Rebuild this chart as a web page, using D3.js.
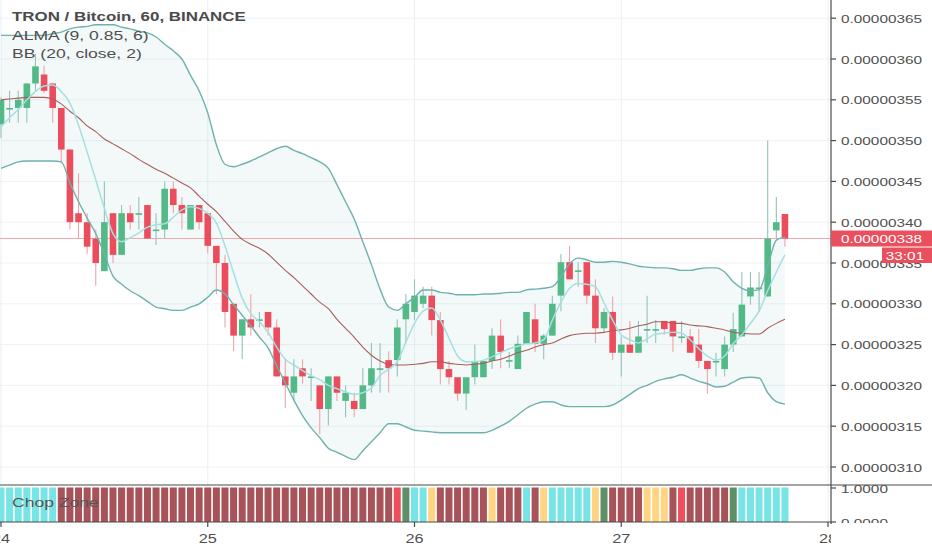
<!DOCTYPE html>
<html><head><meta charset="utf-8">
<script src="https://cdn.jsdelivr.net/npm/d3@7"></script>
<style>
html,body{margin:0;padding:0;background:#fff;}
svg{display:block;font-family:"Liberation Sans",Arial,sans-serif;}
</style></head><body>
<svg id="c" width="932" height="550"></svg>
<script>
// ---------- DATA (prices in satoshi, i.e. 1e-8 BTC; one candle per hour from day 24 00:00) ----------
const openP = [352,353.9,354,354,357,358.1,357,354,348.9,341.1,
340,338,334,341.1,336,341.1,341,342.1,339,339.1,
344.1,342.1,339.1,342.1,341.1,337.1,335,330,326.1,328.1,
328,329,327.1,321.1,319.1,322.1,321,320,317.1,321.1,
318.1,318.1,317.1,320,322,323.1,323.1,328.1,329,330,
331,328,322,321,319,321,321,323,326.1,323,
322,325.1,328.1,325.1,326.1,331,335.1,334,335.1,331,
327,329,324,325,324,326.8,326.8,327.9,327.9,325.9,
326,325,323,322.9,322,325,326,330.9,331.9,330.9,
339,341];
const highP = [355.3,356.1,356.1,357,360.6,359.2,357.1,354,349,346,
341.1,339.1,345,341.1,342.1,342.1,343.1,342.1,341.1,345,
345,343.1,342.1,342.1,341.1,337.1,336,330,328.1,331.2,
329,329,328.1,323.2,323.2,323.2,322.1,320,321.1,321.1,
320,319.1,322.1,325.2,325.2,324.2,328.1,331.2,333,332.1,
332.1,329,323,321,321,325,323,327,328.1,324.1,
326.1,329,330,326.3,331,336.1,337.1,335.1,335.1,333,
329.5,330.9,326,327.9,327.9,331,328,327.9,327.9,327.9,
326.9,326.9,323,324,326,328.9,333.9,333.9,333.9,350,
343.1,341];
const lowP = [350.3,352.2,352.2,352.2,356.1,355.8,352.2,347.2,339.1,338,
336.1,332.2,334,335,336,339.1,339.1,338,337.2,338,
341.1,339.1,339.1,339.1,336.2,331.2,327.1,324.2,323.2,326.1,
327.1,326.1,321.1,317.2,318.1,320.2,318.1,314,315.1,318.1,
316.1,316.1,317.1,319.1,319.1,319.1,321.1,325.2,328,329.5,
326.1,320.1,320.1,318.1,317,320.1,321,322,322.1,322.1,
322,325.1,324.1,323.2,326.1,329.1,333,332.1,330,325.2,
326.5,323.1,321.1,324,324,325.2,325.2,326.2,324.1,325.2,
324,322.1,319,321.1,321.1,324.1,326,329.9,329,330.9,
338,337];
const closeP = [355,354,355,357,359.1,356.1,354,348.9,340,340,
337,335,340,336,341.1,340,341.1,338,339.1,344.1,
342.1,341.1,342.1,340,337.1,335,329,326.1,328.1,327.1,
328.1,327.1,321.1,320,321.1,321.1,321.1,317.1,321.1,319.1,
319.1,317.1,320,322.1,322.1,322.1,327.1,330,331,331,
328,322,321,319,321,323,323,326.1,324.1,323.1,
325.1,329,325.1,326.1,330,335.1,333,334.1,331,327,
329,324,325,324,326,326.9,326.9,326.9,326,326,
324,323,322,323,325,326.9,329.9,332,332,338,
340,338];
const bbUpper = [362.9,362.9,362.9,362.9,362.9,362.9,363.1,363.3,363.7,363.9,
364.0,364.2,364.2,364.2,363.9,363.7,363.4,363.2,362.7,361.8,
361.0,360.0,358.0,356.1,353.4,349.5,347.1,346.8,347.1,347.5,
348.0,348.5,349.0,349.3,348.8,348.4,347.9,347.4,346.6,344.6,
342.5,340.4,337.6,334.8,331.8,329.6,329.2,330.0,330.8,331.7,
331.7,331.4,331.3,331.1,331.1,331.1,331.2,331.2,331.3,331.4,
331.4,331.7,331.8,331.9,332.1,333.3,334.9,335.6,335.4,335.1,
335.1,335.2,335.1,334.9,334.6,334.5,334.4,334.4,334.3,334.1,
334.1,334.3,334.4,334.4,333.9,332.7,331.9,331.6,331.7,334.6,
337.8,338.2];
const bbBasis = [355.0,355.1,355.2,355.3,355.3,355.3,355.1,354.5,353.6,352.8,
351.8,351.1,350.2,349.6,349.0,348.4,347.7,347.1,346.5,346.0,
345.4,344.8,344.2,343.2,342.2,341.3,340.1,338.9,337.9,337.3,
336.8,336.1,335.1,334.1,333.2,332.2,331.2,330.2,329.4,328.1,
327.0,325.9,324.7,323.7,323.0,322.6,322.5,322.5,322.6,322.7,
322.9,322.9,322.7,322.6,322.5,322.6,322.7,323.0,323.2,323.6,
324.0,324.3,324.7,325.0,325.2,325.7,326.1,326.3,326.4,326.4,
326.5,326.7,326.8,327.0,327.3,327.5,327.8,327.8,327.6,327.6,
327.4,327.3,327.2,327.0,326.8,326.5,326.4,326.3,326.3,327.0,
327.6,328.1];
const bbLower = [346.6,347.0,347.4,347.5,347.5,347.5,347.5,347.4,344.8,342.5,
340.5,338.6,336.1,333.4,332.4,331.6,331.0,330.3,329.6,329.4,
329.2,329.2,329.6,330.0,330.8,331.7,331.2,329.9,328.6,327.3,
325.9,324.6,322.4,320.3,318.2,316.3,314.8,313.6,312.3,311.8,
311.3,310.9,312.0,313.1,314.2,315.3,315.3,314.9,314.5,314.4,
314.3,314.2,314.2,314.2,314.2,314.2,314.2,314.5,315.0,315.6,
316.4,317.2,317.7,318.0,318.0,317.6,317.4,317.4,317.4,317.4,
317.4,317.6,318.2,318.9,319.6,320.0,320.5,320.8,321.0,321.3,
320.9,320.5,320.2,319.8,319.9,320.4,320.9,321.0,320.9,319.1,
318.0,317.7];
const almaVals = [351.7,352.8,353.8,355.0,356.0,356.7,356.8,356.0,354.6,351.9,
348.6,345.2,341.7,338.6,337.6,338.1,338.7,339.4,339.7,339.8,
340.6,341.5,341.9,341.7,341.1,339.9,337.1,333.8,330.7,328.8,
327.8,326.5,324.7,323.2,322.5,321.8,321.2,320.7,320.0,319.6,
319.2,318.9,319.1,319.7,321.2,322.0,322.9,325.3,327.6,329.1,
329.5,328.0,325.8,323.6,322.9,322.9,323.1,323.5,324.0,324.5,
324.8,325.1,325.2,325.6,328.0,330.2,331.9,332.5,332.4,332.1,
330.1,328.0,326.2,325.6,325.2,325.7,326.3,326.4,326.5,326.4,
325.6,324.5,323.6,323.1,323.6,325.1,326.2,327.6,329.1,331.6,
333.9,336.0];
// Chop Zone state per candle: c=cyan, d=dark red, r=red, g=dark green, o=orange
const chopStates = ("ccccccc" + "ddddddddddddd" + "ddddddddddddd" + "ddddddddddddd" +
  "rg" + "cc" + "o" + "dddddd" + "o" + "ddd" + "c" + "d" + "o" + "ccccc" + "o" + "g" +
  "dddd" + "ooo" + "d" + "r" + "ddddd" + "g" + "cccccc").split("");
const priceTicks = [310,315,320,325,330,335,340,345,350,355,360,365];
const priceTickLabels = ["0.00000310","0.00000315","0.00000320","0.00000325","0.00000330","0.00000335",
  "0.00000340","0.00000345","0.00000350","0.00000355","0.00000360","0.00000365"];
const dayTicks = [24,25,26,27,28];
const dayLabels = ["24","25","26","27","28"];
const chopTicks = [1,0];
const chopTickLabels = ["1.0000","0.0000"];
const lastPrice = 338;
const lastPriceLabel = "0.00000338";
const countdownLabel = "33:01";
const legendLines = ["TRON / Bitcoin, 60, BINANCE","ALMA (9, 0.85, 6)","BB (20, close, 2)"];

// ---------- LAYOUT ----------
const W = 932, H = 550, axisX = 831, sepY = 485, xAxisY = 522;
const svg = d3.select("#c");
const x = d3.scaleLinear().domain([0, 96]).range([1, 828]);     // hours since day 24
const y = d3.scaleLinear().domain([310, 365]).range([467, 18.2]);
const yc = d3.scaleLinear().domain([0, 1]).range([522, 488]);
const idx = d3.range(openP.length);
const STRETCH = 1.3;
function stretch(sel){
  sel.each(function(){
    const L = this.getComputedTextLength();
    this.setAttribute("textLength", L * STRETCH);
    this.setAttribute("lengthAdjust", "spacingAndGlyphs");
  });
}

const defs = svg.append("defs");
defs.append("clipPath").attr("id","cpMain").append("rect").attr("x",0).attr("y",0).attr("width",axisX).attr("height",sepY);
defs.append("clipPath").attr("id","cpChop").append("rect").attr("x",0).attr("y",sepY).attr("width",axisX).attr("height",xAxisY-sepY);
defs.append("clipPath").attr("id","cpX").append("rect").attr("x",0).attr("y",xAxisY).attr("width",axisX).attr("height",H-xAxisY);
defs.append("clipPath").attr("id","cpChopAx").append("rect").attr("x",axisX).attr("y",sepY).attr("width",W-axisX).attr("height",xAxisY+1-sepY);

// grid
const main = svg.append("g").attr("clip-path","url(#cpMain)");
main.selectAll("line.hg").data(priceTicks).join("line").attr("class","hg")
  .attr("x1",0).attr("x2",axisX).attr("y1",d=>y(d)).attr("y2",d=>y(d))
  .attr("stroke","#eef2f7").attr("stroke-width",1);
main.selectAll("line.vg").data(dayTicks).join("line").attr("class","vg")
  .attr("x1",d=>x((d-24)*24)).attr("x2",d=>x((d-24)*24)).attr("y1",0).attr("y2",sepY)
  .attr("stroke","#eaf0f5").attr("stroke-width",1);

// BB fill
main.append("path").datum(idx)
  .attr("d", d3.area().curve(d3.curveMonotoneX).x(i=>x(i)).y0(i=>y(bbLower[i])).y1(i=>y(bbUpper[i])))
  .attr("fill","rgba(120,190,190,0.09)");

// price line
main.append("line").attr("x1",0).attr("x2",axisX).attr("y1",y(lastPrice)).attr("y2",y(lastPrice))
  .attr("stroke","#f3a6ac").attr("stroke-width",1);

// candles
const up = "#53b987", down = "#eb4d5c";
const isUp = i => closeP[i] >= openP[i];
main.selectAll("line.wick").data(idx).join("line").attr("class","wick")
  .attr("x1",i=>x(i)).attr("x2",i=>x(i)).attr("y1",i=>y(highP[i])).attr("y2",i=>y(lowP[i]))
  .attr("stroke",i=>isUp(i)?"#93c2ba":"#f2a3aa").attr("stroke-width",1.1);
main.selectAll("rect.body").data(idx).join("rect").attr("class","body")
  .attr("x",i=>x(i)-3.3).attr("width",6.6)
  .attr("y",i=>Math.min(y(openP[i]),y(closeP[i])))
  .attr("height",i=>Math.max(1.6,Math.abs(y(openP[i])-y(closeP[i]))))
  .attr("fill",i=>isUp(i)?up:down);

// lines
const line = arr => d3.line().curve(d3.curveMonotoneX).x(i=>x(i)).y(i=>y(arr[i]));
main.append("path").datum(idx).attr("d",line(bbUpper)).attr("fill","none").attr("stroke","#6eb2ad").attr("stroke-width",1.4);
main.append("path").datum(idx).attr("d",line(bbLower)).attr("fill","none").attr("stroke","#6eb2ad").attr("stroke-width",1.4);
main.append("path").datum(idx).attr("d",line(bbBasis)).attr("fill","none").attr("stroke","#a85f5b").attr("stroke-width",1.1);
main.append("path").datum(idx).attr("d",line(almaVals)).attr("fill","none").attr("stroke","#a6dfe0").attr("stroke-width",1.5);

// chop zone
const chopColor = {c:"#77e5e5", d:"#a8525a", r:"#ef4f5c", g:"#5e9068", o:"#ffd584"};
const chop = svg.append("g").attr("clip-path","url(#cpChop)");
chop.selectAll("line.vg").data(dayTicks).join("line").attr("class","vg")
  .attr("x1",d=>x((d-24)*24)).attr("x2",d=>x((d-24)*24)).attr("y1",sepY).attr("y2",xAxisY)
  .attr("stroke","#eaf0f5");
chop.selectAll("rect").data(idx).join("rect")
  .attr("x",i=>x(i)-3.5).attr("width",7)
  .attr("y",yc(1)-0.5).attr("height",yc(0)-yc(1)+0.5)
  .attr("fill",i=>chopColor[chopStates[i]]);
svg.append("text").attr("x",12).attr("y",507).text("Chop Zone")
  .attr("font-size",13.5).attr("fill","#555").call(stretch);

// axes lines
svg.append("line").attr("x1",0).attr("x2",W).attr("y1",sepY).attr("y2",sepY).attr("stroke","#4a4a4a").attr("stroke-width",1.2);
svg.append("line").attr("x1",0).attr("x2",axisX).attr("y1",xAxisY).attr("y2",xAxisY).attr("stroke","#4a4a4a").attr("stroke-width",1.2);
svg.append("line").attr("x1",axisX).attr("x2",axisX).attr("y1",0).attr("y2",xAxisY+2).attr("stroke","#4a4a4a").attr("stroke-width",1.2);

// x axis
svg.selectAll("line.xt").data(dayTicks).join("line").attr("class","xt")
  .attr("x1",d=>x((d-24)*24)).attr("x2",d=>x((d-24)*24)).attr("y1",xAxisY).attr("y2",xAxisY+5)
  .attr("stroke","#4a4a4a").attr("stroke-width",1.2);
const xl = svg.append("g").attr("clip-path","url(#cpX)");
xl.selectAll("text").data(dayTicks).join("text")
  .attr("x",d=>x((d-24)*24)).attr("y",543).attr("text-anchor","middle")
  .attr("font-size",12.5).attr("fill","#4f4f4f").text((d,i)=>dayLabels[i]).call(stretch);

// price axis
svg.selectAll("line.yt").data(priceTicks).join("line").attr("class","yt")
  .attr("x1",axisX).attr("x2",axisX+5).attr("y1",d=>y(d)).attr("y2",d=>y(d))
  .attr("stroke","#4a4a4a").attr("stroke-width",1.2);
svg.selectAll("text.yl").data(priceTicks).join("text").attr("class","yl")
  .attr("x",841).attr("y",d=>y(d)+4.5).attr("font-size",11.8).attr("fill","#4f4f4f")
  .text((d,i)=>priceTickLabels[i]).call(stretch);

// chop axis
svg.selectAll("line.ct").data(chopTicks).join("line").attr("class","ct")
  .attr("x1",axisX).attr("x2",axisX+5).attr("y1",d=>yc(d)).attr("y2",d=>yc(d))
  .attr("stroke","#4a4a4a").attr("stroke-width",1.2);
svg.append("g").attr("clip-path","url(#cpChopAx)").selectAll("text").data(chopTicks).join("text")
  .attr("x",841).attr("y",d=>yc(d)+4.5).attr("font-size",11.8).attr("fill","#4f4f4f")
  .text((d,i)=>chopTickLabels[i]).call(stretch);

// last price label + countdown
const ly = y(lastPrice);
svg.append("rect").attr("x",axisX).attr("y",ly-8).attr("width",W-axisX).attr("height",16).attr("fill","#e94f5d");
svg.append("text").attr("x",841).attr("y",ly+4.3).attr("font-size",11.8).attr("fill","#fff").text(lastPriceLabel).call(stretch);
svg.append("rect").attr("x",882).attr("y",ly+9).attr("width",W-882).attr("height",15.5).attr("fill","#e94f5d");
svg.append("text").attr("x",905).attr("y",ly+21).attr("text-anchor","middle").attr("font-size",11.8).attr("fill","#fff").text(countdownLabel).call(stretch);

// legend
svg.append("text").attr("x",12).attr("y",21).attr("font-size",13).attr("font-weight","bold").attr("fill","#4a4a4a").text(legendLines[0]).call(stretch);
svg.append("text").attr("x",12).attr("y",39.5).attr("font-size",13.5).attr("fill","#4f4f4f").text(legendLines[1]).call(stretch);
svg.append("text").attr("x",12).attr("y",57.5).attr("font-size",13.5).attr("fill","#4f4f4f").text(legendLines[2]).call(stretch);
</script>
</body></html>
